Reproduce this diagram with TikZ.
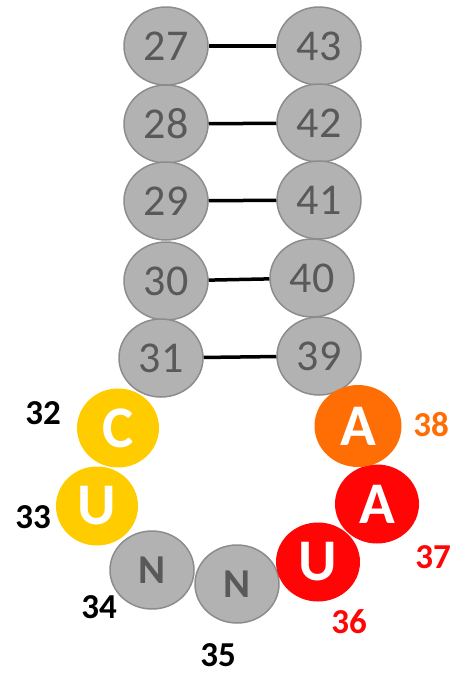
\documentclass[tikz,border=0pt]{standalone}
\usepackage{fontspec}
\setmainfont{Carlito}
\usepackage{tikz}
\usetikzlibrary{shapes.geometric}
\definecolor{basegray}{RGB}{178, 178, 178}
\definecolor{rimgray}{RGB}{140, 140, 140}
\definecolor{textgray}{RGB}{89, 89, 89}
\definecolor{loopyellow}{RGB}{255, 204, 0}
\definecolor{looporange}{RGB}{255, 110, 5}
\definecolor{loopred}{RGB}{255, 5, 5}

\begin{document}
\begin{tikzpicture}[x=1pt, y=-1pt,
    base/.style={draw=rimgray, line width=1.5pt, fill=basegray, ellipse,
                 minimum width=84pt, minimum height=78pt, inner sep=0pt,
                 text=textgray, font=\fontsize{44}{44}\selectfont},
    anti/.style={base, font=\bfseries\fontsize{41}{41}\selectfont},
    hit/.style={ellipse, fill=#1, minimum width=84pt, minimum height=79pt,
                inner sep=0pt, text=white, font=\bfseries\fontsize{59}{59}\selectfont},
    num/.style={font=\bfseries\fontsize{35}{35}\selectfont, text=#1, inner sep=0pt},
    pair/.style={line width=3.5pt, black}]
        \useasboundingbox (0,0) rectangle (457,675);

        % STEM
        \node[base] (n27) at (166,46) {27};
        \node[base] (n28) at (166,124) {28};
        \node[base] (n29) at (166,201) {29};
        \node[base] (n30) at (166,281) {30};
        \node[base] (n31) at (161,358) {31};
        \node[base] (n43) at (319,46) {43};
        \node[base] (n42) at (319,123) {42};
        \node[base] (n41) at (319,200) {41};
        \node[base] (n40) at (312,278) {40};
        \node[base] (n39) at (319,356) {39};
        \draw[pair] (n27)--(n43);
        \draw[pair] (n28)--(n42);
        \draw[pair] (n29)--(n41);
        \draw[pair] (n30)--(n40);
        \draw[pair] (n31)--(n39);

        % LOOP
        \node[hit=loopyellow, minimum width=82pt] (c32) at (118,428) {C};
        \node[hit=loopyellow, minimum width=82pt] (u33) at (97,506) {U};
        \node[anti] (n34) at (152,570) {N};
        \node[anti] (n35) at (237,584) {N};
        \node[hit=loopred] (u36) at (318,562) {U};
        \node[hit=loopred] (a37) at (377,504) {A};
        \node[hit=looporange, minimum width=87pt, minimum height=82pt] (a38) at (358,426) {A};

        % NUMBERS
        \node[num=black] (l32) at (43,413) {32};
        \node[num=black] (l33) at (33,517) {33};
        \node[num=black] (l34) at (99,607) {34};
        \node[num=black] (l35) at (218,655) {35};
        \node[num=loopred] (l36) at (349,622) {36};
        \node[num=loopred] (l37) at (433,557) {37};
        \node[num=looporange] (l38) at (431,425) {38};
      \end{tikzpicture}
\end{document}
